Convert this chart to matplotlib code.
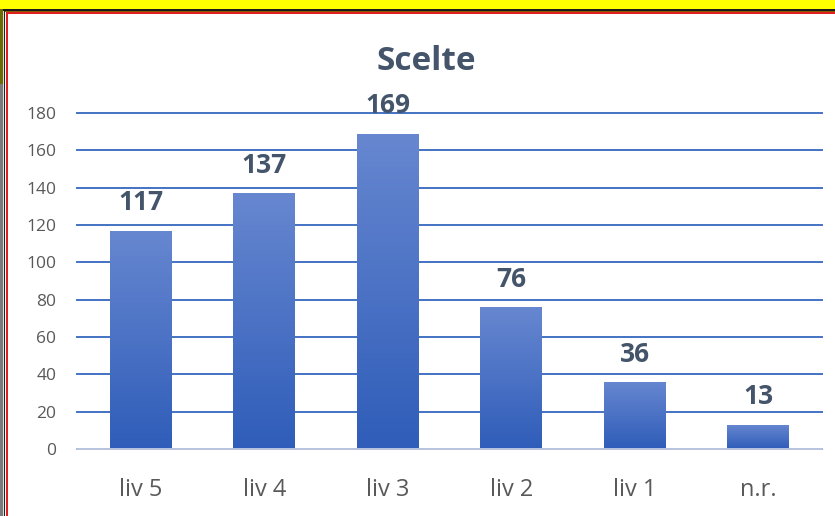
import matplotlib
matplotlib.use("Agg")
import matplotlib.pyplot as plt
import numpy as np
from matplotlib.patches import Rectangle
from matplotlib.colors import LinearSegmentedColormap

categories = ["liv 5", "liv 4", "liv 3", "liv 2", "liv 1", "n.r."]
values = [117, 137, 169, 76, 36, 13]
yticks = [0, 20, 40, 60, 80, 100, 120, 140, 160, 180]
title = "Scelte"

W, H = 835, 516
plt.rcParams['font.family'] = ['Open Sans', 'DejaVu Sans']
fig = plt.figure(figsize=(W / 100, H / 100), dpi=100)
fig.patch.set_facecolor("white")

# frame decorations (spreadsheet borders)
def px_rect(x0, y0, w, h, color):
    fig.patches.append(Rectangle((x0 / W, 1 - (y0 + h) / H), w / W, h / H,
                                 transform=fig.transFigure, color=color, lw=0, zorder=0))

px_rect(0, 0, W, 9, "#FFFF00")
px_rect(0, 9, W, 2, "#1a1a1a")
px_rect(0, 11, W, 1, "#8B5A00")
px_rect(6, 12, W, 2, "#E02020")
px_rect(0, 9, 3, 75, "#6b6b00")
px_rect(0, 84, 3, H, "#7a7a7a")
px_rect(3, 11, 1, H, "#dddddd")
px_rect(4, 11, 1, H, "#222222")
px_rect(6, 12, 2, H, "#E02020")

ax = fig.add_axes([77 / W, 67 / H, (822 - 77) / W, 336 / H])
ax.set_facecolor("none")
x = np.arange(len(categories))
bars = ax.bar(x, values, width=0.5, color="#4472C4", zorder=2)

cmap = LinearSegmentedColormap.from_list("g", ["#2F5DB9", "#6787D0"])
grad = np.linspace(0, 1, 256).reshape(-1, 1)
for b in bars:
    bx, by = b.get_x(), b.get_y()
    bw, bh = b.get_width(), b.get_height()
    im = ax.imshow(grad, cmap=cmap, origin="lower", aspect="auto",
                   extent=[bx, bx + bw, by, by + bh], zorder=3)
    im.set_clip_path(b)
    b.set_edgecolor("none")

ax.set_xlim(-0.5 - 2 / 124, len(categories) - 0.5 + 2 / 124)
ax.set_ylim(0, 180)
ax.set_yticks(yticks)
ax.set_xticks(x)
ax.set_xticklabels(categories)
ax.yaxis.grid(True, color="#4472C4", lw=1.4, zorder=1)
for gl in ax.get_ygridlines():
    gl.set_clip_on(False)
ax.set_axisbelow(True)
for s in ["top", "right", "left"]:
    ax.spines[s].set_visible(False)
ax.spines["bottom"].set_color("#D0D6E6")
ax.spines["bottom"].set_linewidth(1.2)
ax.spines["bottom"].set_zorder(4)
ax.tick_params(axis="y", length=0, pad=15, labelsize=12.5, labelcolor="#595959")
ax.tick_params(axis="x", length=0, pad=21, labelsize=17, labelcolor="#595959")

for xi, v in zip(x, values):
    ax.annotate(str(v), (xi, v), xytext=(0, 20), textcoords="offset points",
                ha="center", va="center", fontsize=19, fontweight="bold",
                color="#44546A", annotation_clip=False, zorder=5)

fig.text(426 / W, 1 - 61 / H, title, ha="center", va="center",
         fontsize=24, fontweight="bold", color="#44546A")

fig.savefig("out.png", dpi=100)
